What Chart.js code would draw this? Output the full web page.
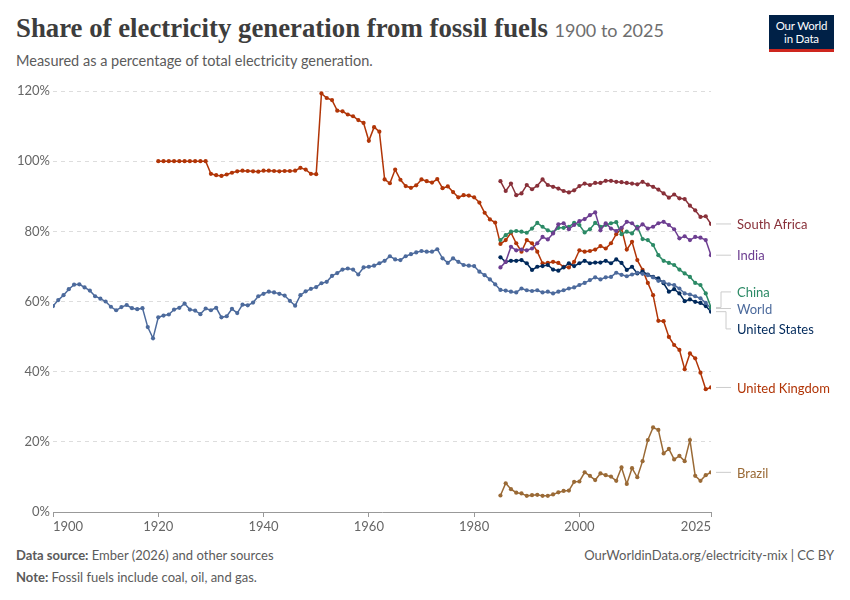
<!DOCTYPE html>
<html><head><meta charset="utf-8">
<script src="https://cdn.jsdelivr.net/npm/chart.js@4"></script>
<style>
body{margin:0;width:850px;height:600px;background:#fff;position:relative;overflow:hidden;font-family:Lato,sans-serif}
#c{position:absolute;left:0;top:0}
.t{position:absolute;white-space:nowrap}
</style></head><body>
<div class="t" style="left:16px;top:13px;font-family:'Liberation Serif',serif;font-size:26.8px;font-weight:600;color:#3d3d3d">Share of electricity generation from fossil fuels <span style="font-family:Lato,sans-serif;font-size:18px;font-weight:400;color:#6e6e6e">1900 to 2025</span></div>
<div class="t" style="left:16px;top:52px;font-size:14.5px;color:#5b5b5b">Measured as a percentage of total electricity generation.</div>
<div class="t" style="left:769px;top:15px;width:65px;background:#002147;border-bottom:3px solid #ce261e;color:#fff;font-size:11.5px;line-height:13px;text-align:center;padding-top:4px;box-sizing:content-box;height:30px;letter-spacing:-0.2px">Our World<br>in Data</div>
<div class="t" style="left:16px;top:547px;font-size:13px;color:#5b5b5b"><b style="font-weight:700">Data source:</b> Ember (2026) and other sources</div>
<div class="t" style="left:16px;top:569px;font-size:13px;color:#5b5b5b"><b style="font-weight:700">Note:</b> Fossil fuels include coal, oil, and gas.</div>
<div class="t" style="right:16px;top:547px;font-size:13px;color:#5b5b5b">OurWorldinData.org/electricity-mix | CC BY</div>
<canvas id="c" width="850" height="600"></canvas>
<script>
// ---- data ----
const xTicks = [1900, 1920, 1940, 1960, 1980, 2000, 2025];
const yTicks = [0, 20, 40, 60, 80, 100, 120];

const worldStart = 1900;
const world = [58.7,60.4,61.8,63.5,64.8,64.9,64.0,63.1,61.5,60.8,
  60.0,58.5,57.5,58.4,59.0,58.1,57.8,58.1,52.7,49.5,
  55.5,56.0,56.3,57.7,58.2,59.4,57.7,57.4,56.4,58.0,
  57.5,58.2,55.5,55.8,57.9,56.7,59.1,58.9,59.7,61.5,
  62.2,62.8,62.6,62.2,61.7,60.2,58.8,61.8,62.9,63.6,
  64.1,65.2,65.6,67.3,68.1,69.1,69.4,69.1,67.7,69.7,
  69.9,70.2,70.9,71.6,72.9,72.0,71.8,72.9,73.5,74.0,
  74.4,74.2,74.2,74.9,72.3,71.0,72.3,71.3,70.4,70.2,
  70.1,68.5,67.5,66.3,64.9,63.3,63.1,62.8,62.6,63.7,
  63.2,63.0,63.2,62.6,62.8,62.3,62.8,63.2,63.7,64.0,
  64.7,65.3,66.1,66.9,66.3,66.9,67.0,68.2,67.6,67.2,
  67.7,68.2,67.9,67.5,66.9,65.9,65.6,64.9,64.7,63.7,
  62.3,62.0,61.5,60.9,59.6,58.0];

const ukStart = 1920;
const uk = [100,100,100,100,100,100,100,100,100,100,
  96.4,96.0,95.8,96.2,96.7,97.1,97.3,97.2,97.1,97.0,
  97.3,97.3,97.2,97.1,97.2,97.2,97.3,98.1,97.6,96.4,
  96.3,119.3,118.0,117.4,114.4,114.2,113.3,112.8,111.7,110.9,
  105.8,109.7,108.4,94.8,93.7,97.6,94.7,92.9,92.4,93.1,
  94.8,94.3,93.9,94.9,92.3,92.8,91.2,89.7,90.3,90.2,
  89.7,88.2,85.3,83.4,82.5,76.4,77.5,79.6,76.6,74.2,
  77.5,76.6,74.2,70.9,71.0,71.3,71.0,69.9,69.7,71.3,
  74.6,74.2,74.4,74.8,75.8,75.1,76.6,79.2,80.8,74.8,
  77.0,71.8,69.0,65.3,61.8,54.5,54.4,49.9,47.6,46.2,
  40.7,45.2,43.8,39.7,35.0,35.5];

const recentStart = 1985;
const southAfrica = [94.3,91.5,93.6,90.3,90.8,93.2,92.0,93.0,94.8,93.2,
  92.7,92.2,91.5,91.1,91.7,92.9,93.6,93.2,93.8,93.8,
  94.4,94.4,94.1,94.0,93.8,93.6,93.4,94.1,93.3,92.7,
  91.9,90.8,89.6,90.5,89.4,89.2,87.3,86.0,84.1,84.3,82.1];
const india = [69.7,71.3,75.6,74.6,74.8,74.6,75.1,76.6,78.4,77.7,
  79.4,82.0,82.3,80.6,81.8,82.9,83.5,84.6,85.4,80.3,
  82.3,80.8,80.1,81.0,82.7,82.3,80.8,82.0,80.8,81.3,
  82.3,82.7,81.8,80.6,78.0,78.6,77.5,78.4,78.2,77.5,73.2];
const china = [77.5,78.9,79.9,80.1,79.9,79.6,80.8,82.4,81.3,80.3,
  79.7,81.0,81.0,81.3,82.4,81.8,79.7,80.6,82.4,81.3,
  81.8,82.3,82.6,79.2,79.9,79.4,81.3,77.8,77.5,76.1,
  73.2,71.6,71.0,70.4,69.1,68.0,67.0,65.3,64.7,62.3,58.3];
const unitedStates = [72.6,71.3,71.6,71.6,71.8,70.9,69.0,69.9,70.1,70.4,
  69.1,68.8,69.7,70.9,70.1,70.9,71.6,70.9,71.1,71.1,
  71.6,70.9,72.0,71.0,69.0,69.9,68.0,68.5,67.7,67.0,
  66.6,65.2,62.8,63.5,62.3,60.1,60.6,59.9,59.6,58.7,57.1];
const brazil = [4.7,8.2,6.5,5.5,5.3,4.6,4.8,4.9,4.6,4.6,
  5.0,5.6,6.0,6.1,8.6,8.7,11.3,10.3,9.1,11.0,
  10.5,10.1,8.9,12.7,8.0,12.5,9.9,14.5,20.5,24.1,
  23.4,16.7,18.0,15.0,16.0,14.5,20.5,10.3,8.9,10.5,11.3];

const seriesNames = ['South Africa','India','China','World','United States','United Kingdom','Brazil'];
const seriesColors = ['#883039','#6D3E91','#2C8A66','#4C6A9C','#00295B','#B13507','#9A6A36'];

// ---- build ----
const toPts = (start, arr) => arr.map((v, i) => ({x: start + i, y: v}));
const seriesData = [
  toPts(recentStart, southAfrica),
  toPts(recentStart, india),
  toPts(recentStart, china),
  toPts(worldStart, world),
  toPts(recentStart, unitedStates),
  toPts(ukStart, uk),
  toPts(recentStart, brazil)
];

const datasets = seriesNames.map((n, i) => ({
  label: n,
  data: seriesData[i],
  borderColor: seriesColors[i],
  backgroundColor: seriesColors[i],
  pointBackgroundColor: seriesColors[i],
  pointBorderWidth: 0,
  pointRadius: 2.1,
  borderWidth: 1.5,
  tension: 0,
  fill: false
}));

const endLabels = {
  id: 'endLabels',
  afterDatasetsDraw(chart) {
    const ctx = chart.ctx;
    const items = [];
    chart.data.datasets.forEach((ds, i) => {
      const meta = chart.getDatasetMeta(i);
      const p = meta.data[meta.data.length - 1];
      items.push({name: ds.label, color: ds.borderColor, px: p.x, y: p.y});
    });
    items.sort((a, b) => a.y - b.y);
    const gap = 18.5;
    let cl = items.map(it => ({its: [it]}));
    const pos = c => c.its.reduce((s, i) => s + i.y, 0) / c.its.length - (c.its.length - 1) * gap / 2;
    let merged = true;
    while (merged) {
      merged = false;
      for (let i = 0; i < cl.length - 1; i++) {
        if (pos(cl[i]) + cl[i].its.length * gap > pos(cl[i + 1])) {
          cl[i].its = cl[i].its.concat(cl[i + 1].its);
          cl.splice(i + 1, 1);
          merged = true; break;
        }
      }
    }
    cl.forEach(c => { const t = pos(c); c.its.forEach((it, k) => it.ly = t + k * gap + 1.2); });
    ctx.save();
    ctx.strokeStyle = '#cccccc';
    ctx.lineWidth = 1;
    items.forEach(it => {
      const x0 = it.px + 5, x1 = it.px + 20;
      const straight = Math.abs(it.ly - it.y) < 3;
      ctx.beginPath();
      if (straight) {
        ctx.moveTo(x0, it.y); ctx.lineTo(x1, it.y);
      } else {
        const mx = it.ly < it.y ? it.px + 10 : it.px + 15;
        ctx.moveTo(x0, it.y); ctx.lineTo(mx, it.y); ctx.lineTo(mx, it.ly); ctx.lineTo(x1, it.ly);
      }
      ctx.stroke();
      ctx.fillStyle = it.color;
      ctx.font = '13px Lato, sans-serif';
      ctx.textBaseline = 'middle';
      ctx.textAlign = 'left';
      ctx.fillText(it.name, it.px + 26, (straight ? it.y : it.ly) + 1);
    });
    ctx.restore();
  }
};

new Chart(document.getElementById('c'), {
  type: 'line',
  data: {datasets},
  options: {
    responsive: false,
    devicePixelRatio: 1,
    animation: false,
    layout: {padding: {left: 16, right: 139, top: 91, bottom: 58}},
    plugins: {legend: {display: false}, tooltip: {enabled: false}},
    scales: {
      x: {
        type: 'linear', min: 1900, max: 2025,
        afterBuildTicks: s => { s.ticks = xTicks.map(v => ({value: v})); },
        afterFit: s => { s.height = 30; },
        ticks: {
          color: '#666', font: {family: 'Lato', size: 13}, align: 'inner',
          maxRotation: 0, autoSkip: false, padding: 2,
          callback: v => String(v)
        },
        grid: {display: true, drawOnChartArea: false, drawTicks: true, tickLength: 5, color: '#999'},
        border: {display: true, color: '#999', width: 1}
      },
      y: {
        min: 0, max: 120,
        afterBuildTicks: s => { s.ticks = yTicks.map(v => ({value: v})); },
        afterFit: s => { s.width = 37; },
        ticks: {color: '#666', font: {family: 'Lato', size: 13}, padding: 3, callback: v => v + '%'},
        grid: {color: c => c.tick && c.tick.value === 0 ? 'rgba(0,0,0,0)' : '#dddddd', drawTicks: false, lineWidth: 1},
        border: {display: false, dash: [4, 4]}
      }
    }
  },
  plugins: [endLabels]
});
</script>
</body></html>
